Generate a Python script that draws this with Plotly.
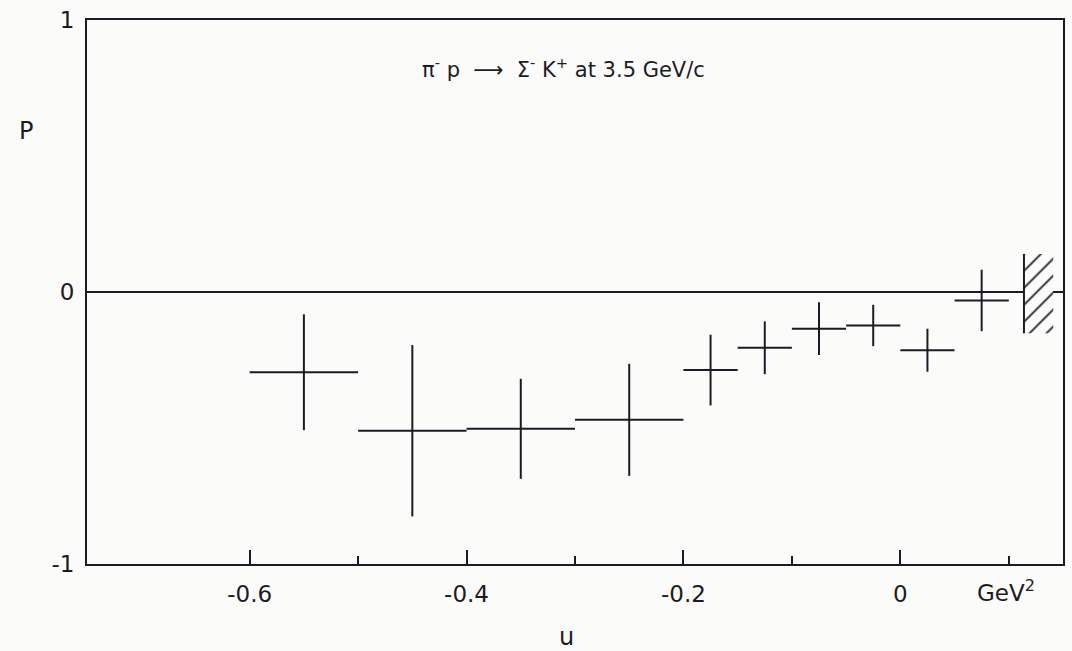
import plotly.graph_objects as go

# --- data ---
u_center = [-0.55, -0.45, -0.35, -0.25, -0.175, -0.125, -0.075, -0.025, 0.025, 0.075]
u_halfwidth = [0.05, 0.05, 0.05, 0.05, 0.025, 0.025, 0.025, 0.025, 0.025, 0.025]
P_values = [-0.295, -0.51, -0.503, -0.47, -0.287, -0.205, -0.135, -0.123, -0.214, -0.031]
P_errors = [0.213, 0.315, 0.184, 0.206, 0.13, 0.097, 0.097, 0.076, 0.079, 0.113]

# kinematic limit (hatched boundary)
u_limit = 0.114
limit_P_range = [-0.152, 0.14]
hatch_right = 0.141

x_major = [-0.6, -0.4, -0.2, 0.0]
x_major_text = ["-0.6", "-0.4", "-0.2", "0"]
x_minor = [-0.5, -0.3, -0.1, 0.1]
y_ticks = [-1, 0, 1]
y_tick_text = ["-1", "0", "1"]

INK = "#1b1b26"
BG = "#fbfbf9"
FONT = "DejaVu Sans"

fig = go.Figure()

# hatched region beyond kinematic limit
fig.add_trace(go.Scatter(
    x=[u_limit, hatch_right, hatch_right, u_limit, u_limit],
    y=[limit_P_range[0], limit_P_range[0], limit_P_range[1], limit_P_range[1], limit_P_range[0]],
    mode="lines", fill="toself", line=dict(width=0, color=BG),
    fillcolor=BG,
    fillpattern=dict(shape="/", fgcolor=INK, fgopacity=1, bgcolor=BG, size=12, solidity=0.14),
    hoverinfo="skip", showlegend=False,
))
fig.add_trace(go.Scatter(
    x=[u_limit, u_limit], y=limit_P_range, mode="lines",
    line=dict(color=INK, width=2), hoverinfo="skip", showlegend=False,
))

# data crosses
fig.add_trace(go.Scatter(
    x=u_center, y=P_values, mode="markers",
    marker=dict(size=1, color=INK),
    error_x=dict(type="data", array=u_halfwidth, visible=True, width=0, thickness=2, color=INK),
    error_y=dict(type="data", array=P_errors, visible=True, width=0, thickness=2, color=INK),
    showlegend=False,
))

fig.update_layout(
    width=1072, height=651,
    margin=dict(l=87, r=7, t=20, b=87),
    paper_bgcolor=BG, plot_bgcolor=BG,
    font=dict(family=FONT, color=INK, size=19),
    showlegend=False,
    xaxis=dict(
        range=[-0.75, 0.15], showgrid=False, zeroline=False,
        showline=True, linecolor=INK, linewidth=2, mirror=True,
        tickmode="array", tickvals=x_major, ticktext=x_major_text,
        ticks="inside", ticklen=14, tickwidth=2, tickcolor=INK,
        ticklabelstandoff=8,
        minor=dict(tickvals=x_minor, ticks="inside", ticklen=8, tickwidth=2, tickcolor=INK),
        tickfont=dict(size=23, family=FONT, color=INK),
    ),
    yaxis=dict(
        range=[-1, 1], showgrid=False,
        zeroline=True, zerolinecolor=INK, zerolinewidth=2,
        showline=True, linecolor=INK, linewidth=2, mirror=True,
        tickmode="array", tickvals=y_ticks, ticktext=y_tick_text,
        ticks="", ticklabelstandoff=6,
        tickfont=dict(size=23, family=FONT, color=INK),
    ),
    annotations=[
        dict(text="π<sup>-</sup> p  ⟶  Σ<sup>-</sup> K<sup>+</sup> at 3.5 GeV/c",
             xref="paper", yref="paper", x=(564 - 87) / 978, y=(651 - 87 - 68) / 544,
             xanchor="center", yanchor="middle", showarrow=False,
             font=dict(size=21, family=FONT, color=INK)),
        dict(text="P", xref="paper", yref="paper", x=(26 - 87) / 978, y=(651 - 87 - 131) / 544,
             xanchor="center", yanchor="middle", showarrow=False,
             font=dict(size=24, family=FONT, color=INK)),
        dict(text="GeV<sup>2</sup>", xref="paper", yref="paper", x=(1008 - 87) / 978, y=(651 - 87 - 591) / 544,
             xanchor="center", yanchor="middle", showarrow=False,
             font=dict(size=23, family=FONT, color=INK)),
        dict(text="u", xref="paper", yref="paper", x=(567 - 87) / 978, y=(651 - 87 - 637) / 544,
             xanchor="center", yanchor="middle", showarrow=False,
             font=dict(size=24, family=FONT, color=INK)),
    ],
)

fig.write_html("out.html")
